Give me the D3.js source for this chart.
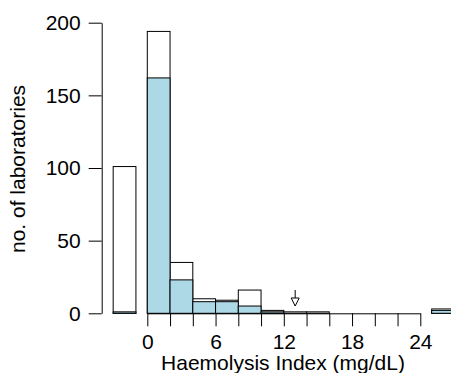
<!DOCTYPE html>
<html>
<head>
<meta charset="utf-8">
<script src="https://cdn.jsdelivr.net/npm/d3@7"></script>
<style>
  html, body { margin: 0; padding: 0; background: #fff; }
  svg { display: block; }
  text { font-family: "Liberation Sans", Arial, sans-serif; }
</style>
</head>
<body>
<div id="chart"></div>
<script>
// bin left edges (width 2), -3 = below range, 25 = above range
const binStart = [-3, 0, 2, 4, 6, 8, 10, 12, 14, 16, 18, 20, 22, 25];
const allLabs  = [101, 194, 35, 10, 9, 16, 2, 1, 1, 0, 0, 0, 0, 3];
const subLabs  = [1, 162, 23, 8, 8, 5, 1, 0, 0, 0, 0, 0, 0, 2];
const xTicks = [0, 2, 4, 6, 8, 10, 12, 14, 16, 18, 20, 22, 24];
const xTickLabels = [0, 6, 12, 18, 24];
const yTicks = [0, 50, 100, 150, 200];
const targetValue = 13;

const width = 451, height = 373;
const binWidth = 2;

const svg = d3.select('#chart')
  .append('svg')
  .attr('width', width)
  .attr('height', height);

const x = d3.scaleLinear().domain([0, 24]).range([147.3, 420.3]);
const y = d3.scaleLinear().domain([0, 200]).range([313.3, 22.7]);

const bins = binStart.map((s, i) => ({ s, all: allLabs[i], sub: subLabs[i] }));

// outline bars (all labs)
svg.append('g')
  .selectAll('rect')
  .data(bins.filter(d => d.all > 0))
  .enter()
  .append('rect')
  .attr('x', d => x(d.s))
  .attr('y', d => y(d.all))
  .attr('width', d => x(d.s + binWidth) - x(d.s))
  .attr('height', d => y(0) - y(d.all))
  .attr('fill', '#fff')
  .attr('stroke', '#000')
  .attr('stroke-width', 1);

// filled bars (subset)
svg.append('g')
  .selectAll('rect')
  .data(bins.filter(d => d.sub > 0))
  .enter()
  .append('rect')
  .attr('x', d => x(d.s))
  .attr('y', d => y(d.sub))
  .attr('width', d => x(d.s + binWidth) - x(d.s))
  .attr('height', d => y(0) - y(d.sub))
  .attr('fill', '#add8e6')
  .attr('stroke', '#000')
  .attr('stroke-width', 1);

// x axis
const xAxis = svg.append('g')
  .attr('transform', 'translate(0,' + y(0) + ')')
  .call(d3.axisBottom(x)
    .tickValues(xTicks)
    .tickSize(13)
    .tickSizeOuter(0)
    .tickPadding(8)
    .tickFormat(d => xTickLabels.includes(d) ? d : ''));
xAxis.selectAll('text').attr('font-size', 21).attr('font-family', '"Liberation Sans", Arial, sans-serif').attr('fill', '#000');

// y axis
const yAxis = svg.append('g')
  .attr('transform', 'translate(101.7,0)')
  .call(d3.axisLeft(y)
    .tickValues(yTicks)
    .tickSize(13)
    .tickSizeOuter(0)
    .tickPadding(8));
yAxis.selectAll('text').attr('font-size', 21).attr('font-family', '"Liberation Sans", Arial, sans-serif').attr('fill', '#000');

// target arrow
const ax = x(targetValue);
svg.append('line')
  .attr('x1', ax).attr('x2', ax)
  .attr('y1', 290).attr('y2', 298)
  .attr('stroke', '#000');
svg.append('path')
  .attr('d', d3.line()([[ax - 4, 298], [ax + 4, 298], [ax, 306]]) + 'Z')
  .attr('fill', '#fff')
  .attr('stroke', '#000');

// axis titles
svg.append('text')
  .attr('x', 283)
  .attr('y', 370)
  .attr('text-anchor', 'middle')
  .attr('font-size', 21)
  .text('Haemolysis Index (mg/dL)');

svg.append('text')
  .attr('transform', 'translate(25,169) rotate(-90)')
  .attr('text-anchor', 'middle')
  .attr('font-size', 21)
  .text('no. of laboratories');
</script>
</body>
</html>
